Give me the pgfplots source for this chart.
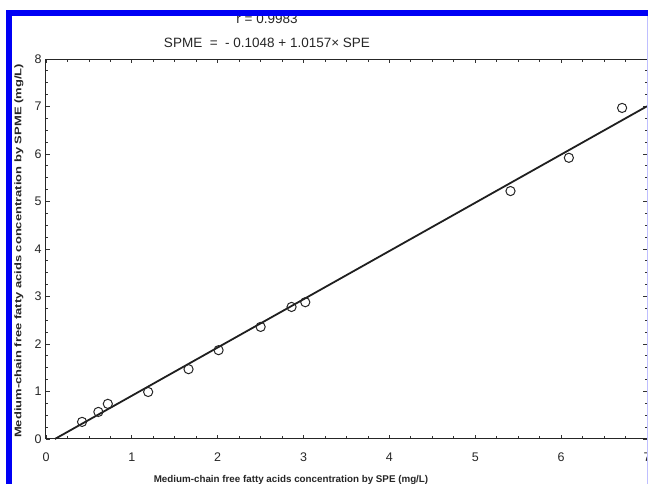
\documentclass[border=0pt]{standalone}
\usepackage{fontspec}
\setmainfont{Liberation Sans}
\usepackage{pgfplots}
\pgfplotsset{compat=1.18}
\definecolor{framebl}{RGB}{0,0,245}
\begin{document}
\begin{tikzpicture}[x=1pt,y=1pt]
\useasboundingbox (0,0) rectangle (648,484);
\begin{axis}[
  at={(46pt,45pt)}, anchor=south west,
  scale only axis, width=601pt, height=380pt,
  xmin=0, xmax=7, ymin=0, ymax=8,
  xtick={0,...,7}, ytick={0,...,8},
  minor tick num=3,
  tick align=inside,
  major tick length=4pt, minor tick length=2.5pt,
  axis line style={line width=1pt, black!85},
  tick style={line width=0.8pt, black!80},
  tick label style={font=\fontsize{12.5}{14}\selectfont, text=black!85},
  /pgf/number format/assume math mode=true,
  xticklabel style={yshift=-10pt},
  yticklabel style={xshift=-1pt},
  clip=false,
]
\addplot[black!88, line width=1.8pt] coordinates {(0.1032,0) (7,7.0051)};
\addplot[only marks, mark=o, mark size=4.6pt, black!85, mark options={line width=1pt, fill=white}]
  coordinates {
    (0.42,0.36) (0.61,0.57) (0.72,0.74) (1.19,0.99)
    (1.66,1.47) (2.01,1.87) (2.50,2.36) (2.86,2.78)
    (3.02,2.88) (5.41,5.22) (6.09,5.92) (6.71,6.97)
  };
\end{axis}
% titles
\node[font=\fontsize{13.5}{15}\selectfont, text=black!85] at (267,441) {SPME\ \ =\ \ - 0.1048 + 1.0157\texttimes\ SPE};
\node[font=\fontsize{13.5}{15}\selectfont, text=black!85] at (267,465) {r = 0.9983};
% axis labels
\node[font=\bfseries\fontsize{9.8}{11}\selectfont, text=black!85] at (291,4) {Medium-chain free fatty acids concentration by SPE (mg/L)};
\node[font=\bfseries\fontsize{9.6}{11}\selectfont, text=black!85, rotate=90] at (19,233)
  {\scalebox{1.35}[1]{Medium-chain free fatty acids concentration by SPME (mg/L)}};
% blue frame
\fill[white] (0,474) rectangle (648,484);
\fill[framebl] (6,468) rectangle (648,474);
\fill[framebl] (6,0) rectangle (11.5,474);
\draw[blue!25, line width=0.8pt] (647.6,0) -- (647.6,468);
\end{tikzpicture}
\end{document}
